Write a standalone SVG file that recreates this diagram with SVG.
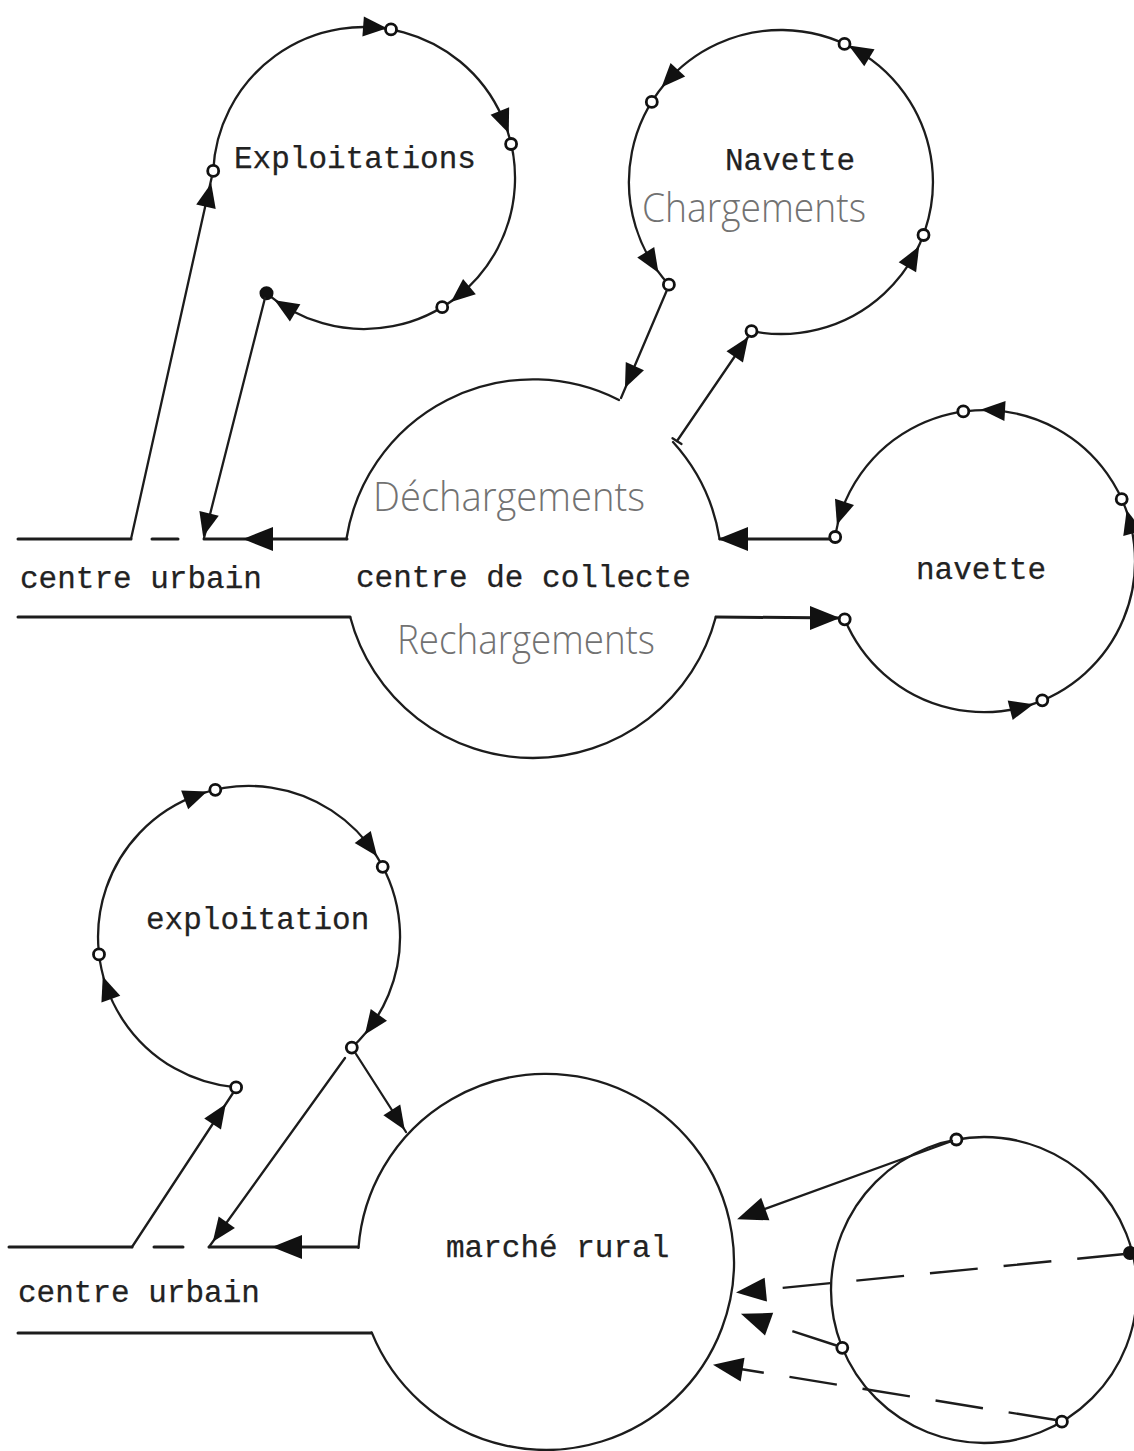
<svg xmlns="http://www.w3.org/2000/svg" xmlns:xlink="http://www.w3.org/1999/xlink" width="1134" height="1451" viewBox="0 0 1134 1451">
<style>
.ln{fill:none;stroke:#1c1c1c;stroke-width:2.3;stroke-linecap:round}
.th{fill:none;stroke:#1c1c1c;stroke-width:3;stroke-linecap:round}
.dash{fill:none;stroke:#1c1c1c;stroke-width:2.4;stroke-dasharray:48 26}
.ah{fill:#111}
.o{fill:#fff;stroke:#111;stroke-width:2.8}
.of{fill:#111;stroke:#111;stroke-width:2}
.tw{font-family:"Liberation Mono","Courier New",monospace;font-size:31px;fill:#222;stroke:#222;stroke-width:0.25}
.hw{font-family:"Open Sans","DejaVu Sans",sans-serif;font-weight:300;font-size:40px;fill:#727272}
</style>
<defs>
<path id="a" class="ah" d="M12,0 L-12,-10 L-12,10 Z"/>
<path id="A" class="ah" d="M15,0 L-15,-12 L-15,12 Z"/>
<circle id="o" class="o" r="5.5"/>
</defs>
<rect width="1134" height="1451" fill="#fff"/>

<g id="node-exploitations">
<path class="ln" d="M213.2,170.9 A151,151 0 1 1 266.5,293.3"/>
<use href="#a" transform="translate(375.1,27.4) rotate(4.2)"/>
<use href="#o" x="391" y="29.4"/>
<use href="#a" transform="translate(504.3,122.2) rotate(68.3)"/>
<use href="#o" x="511.1" y="144"/>
<use href="#a" transform="translate(460.2,294.3) rotate(140.4)"/>
<use href="#o" x="442.2" y="307.2"/>
<use href="#a" transform="translate(284.9,306.6) rotate(211.6)"/>
<circle class="of" cx="266.5" cy="293.3" r="6"/>
<use href="#o" x="213.2" y="170.9"/>
<text class="tw" x="234" y="168">Exploitations</text>
</g>

<g id="node-navette-chargements">
<path class="ln" d="M751.5,331.1 A152,152 0 1 0 668.9,284.7"/>
<use href="#a" transform="translate(913.3,256.8) rotate(-60.5)"/>
<use href="#o" x="923.5" y="235"/>
<use href="#a" transform="translate(859.1,51.6) rotate(-149.1)"/>
<use href="#o" x="844.5" y="43.9"/>
<use href="#a" transform="translate(669.7,78.5) rotate(132.9)"/>
<use href="#o" x="651.8" y="101.9"/>
<use href="#a" transform="translate(652.1,262.5) rotate(58)"/>
<use href="#o" x="668.9" y="284.7"/>
<use href="#o" x="751.5" y="331.1"/>
<text class="tw" x="725" y="170">Navette</text>
<text class="hw" x="642" y="222" textLength="224" lengthAdjust="spacingAndGlyphs">Chargements</text>
</g>

<g id="node-centre-collecte">
<path class="ln" d="M346.4,539 A189,189 0 0 1 619,400"/>
<path class="ln" d="M673,442 A189,189 0 0 1 719.6,539"/>
<path class="ln" d="M715.8,617 A189,189 0 0 1 350.2,617"/>
<text class="hw" x="373" y="511" textLength="272" lengthAdjust="spacingAndGlyphs">Déchargements</text>
<text class="tw" x="356" y="587">centre de collecte</text>
<text class="hw" x="397" y="654" textLength="258" lengthAdjust="spacingAndGlyphs">Rechargements</text>
</g>

<g id="node-navette-right">
<path class="ln" d="M844.7,619.3 A151,151 0 1 0 835.2,535.6"/>
<use href="#a" transform="translate(1021.8,707.2) rotate(-14.5)"/>
<use href="#o" x="1042.3" y="700.3"/>
<use href="#a" transform="translate(1129.8,521.7) rotate(-105.1)"/>
<use href="#o" x="1121.7" y="499.1"/>
<use href="#a" transform="translate(993,410.3) rotate(-176.6)"/>
<use href="#o" x="963.3" y="411.4"/>
<use href="#a" transform="translate(840.7,513.3) rotate(108.4)"/>
<use href="#o" x="835.2" y="537"/>
<use href="#o" x="844.7" y="619.3"/>
<text class="tw" x="916" y="579">navette</text>
</g>

<g id="node-centre-urbain-top">
<line class="th" x1="18" y1="539" x2="131" y2="539"/>
<line class="th" x1="152" y1="539" x2="178" y2="539"/>
<line class="th" x1="204" y1="539" x2="347" y2="539"/>
<line class="th" x1="18" y1="617" x2="350" y2="617"/>
<text class="tw" x="20" y="588">centre urbain</text>
</g>

<g id="node-exploitation">
<path class="ln" d="M236.1,1087.4 A151,151 0 1 1 351.8,1047.6"/>
<use href="#a" transform="translate(106.8,987.9) rotate(250.3)"/>
<use href="#o" x="99" y="954.4"/>
<use href="#a" transform="translate(195.9,795.6) rotate(339.4)"/>
<use href="#o" x="215.3" y="789.8"/>
<use href="#a" transform="translate(369.9,846.6) rotate(53.2)"/>
<use href="#o" x="382.7" y="866.8"/>
<use href="#a" transform="translate(371.9,1024.7) rotate(125.5)"/>
<use href="#o" x="351.8" y="1047.6"/>
<use href="#o" x="236.1" y="1087.4"/>
<text class="tw" x="146" y="929">exploitation</text>
</g>

<g id="node-marche-rural">
<path class="ln" d="M358.5,1247.9 A188,188 0 1 1 371.7,1332.4"/>
<text class="tw" x="446" y="1257">marché rural</text>
</g>

<g id="node-centre-urbain-bottom">
<line class="th" x1="9" y1="1247" x2="132" y2="1247"/>
<line class="th" x1="154" y1="1247" x2="183" y2="1247"/>
<line class="th" x1="209" y1="1247" x2="358" y2="1247"/>
<line class="th" x1="18" y1="1333" x2="371" y2="1333"/>
<text class="tw" x="18" y="1302">centre urbain</text>
</g>

<g id="node-circle-bottom-right">
<circle class="ln" cx="984" cy="1290" r="153"/>
<use href="#o" x="956.4" y="1139.5"/>
<circle class="of" cx="1130" cy="1253" r="6"/>
<use href="#o" x="842.3" y="1347.8"/>
<use href="#o" x="1061.9" y="1421.7"/>
</g>

<g id="connectors">
<line class="ln" x1="131" y1="539" x2="212" y2="176"/>
<use href="#a" transform="translate(208.6,195) rotate(-77.3)"/>
<line class="ln" x1="265" y1="298" x2="204" y2="538"/>
<use href="#a" transform="translate(206.1,525) rotate(104.3)"/>
<use href="#A" transform="translate(258,539) rotate(180)"/>
<line class="ln" x1="667" y1="290" x2="621" y2="398"/>
<use href="#a" transform="translate(629.9,377) rotate(114.4)"/>
<line class="ln" x1="677" y1="441" x2="748" y2="337"/>
<line class="ln" x1="672.5" y1="438.2" x2="681.5" y2="444"/>
<use href="#a" transform="translate(741.5,347) rotate(-55.6)"/>
<line class="th" x1="720" y1="539" x2="830" y2="539"/>
<use href="#A" transform="translate(733,539) rotate(180)"/>
<line class="th" x1="716" y1="617" x2="839" y2="618"/>
<use href="#A" transform="translate(825,618) rotate(0)"/>
<line class="ln" x1="132" y1="1247" x2="233" y2="1093"/>
<use href="#a" transform="translate(219.2,1114) rotate(-56.7)"/>
<line class="ln" x1="345" y1="1058" x2="209" y2="1247"/>
<use href="#a" transform="translate(219.8,1232) rotate(125.7)"/>
<line class="ln" x1="356" y1="1054" x2="406" y2="1132"/>
<use href="#a" transform="translate(398.3,1120) rotate(57.3)"/>
<use href="#A" transform="translate(287,1247) rotate(180)"/>
<line class="ln" x1="952" y1="1141" x2="751" y2="1214"/>
<use href="#A" transform="translate(751.2,1214.2) rotate(160)"/>
<path class="dash" d="M1125,1254 L751,1291"/>
<use href="#A" transform="translate(750.9,1291.1) rotate(174.4)"/>
<path class="dash" d="M838,1346 L755,1319"/>
<use href="#A" transform="translate(755,1319) rotate(200)"/>
<path class="dash" d="M1056,1420 L728,1367"/>
<use href="#A" transform="translate(727.8,1367.2) rotate(189.2)"/>
</g>
</svg>
